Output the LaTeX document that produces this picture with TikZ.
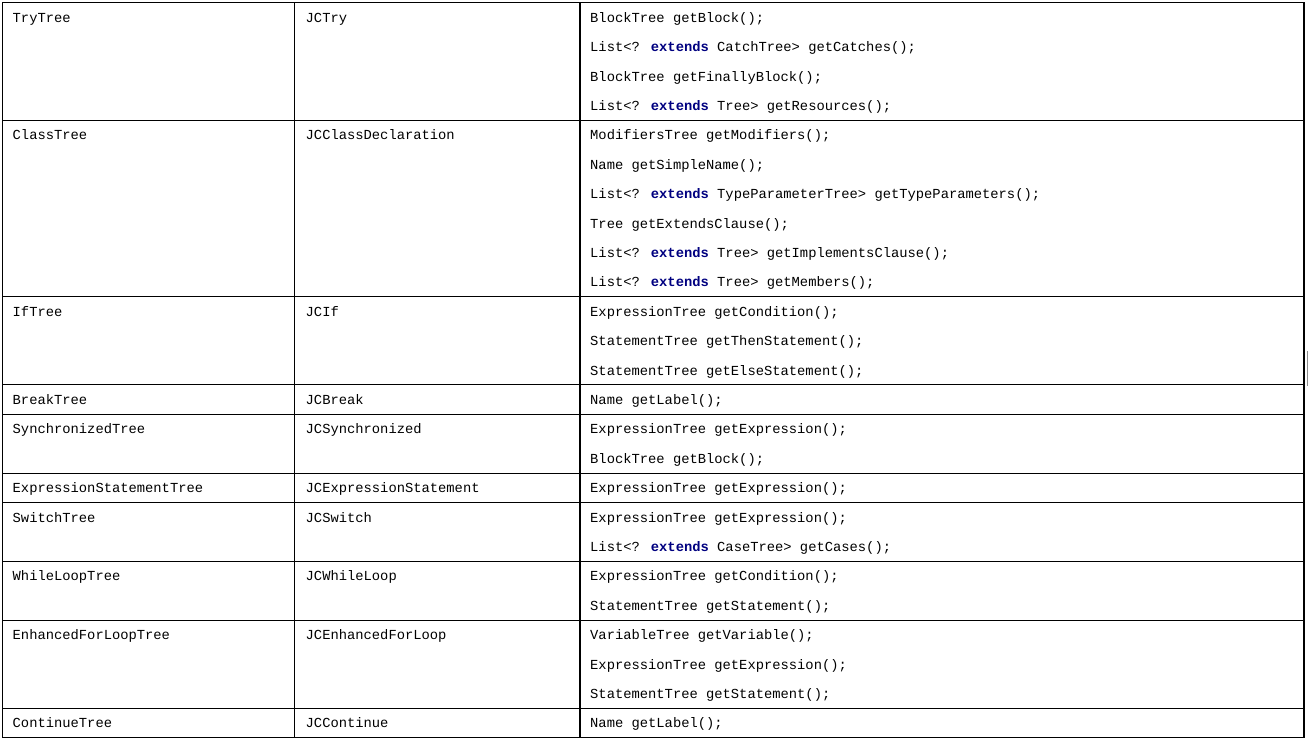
\documentclass[tikz,border=0pt]{standalone}
\usepackage{fontspec}
\setmainfont{Liberation Mono}
\usepackage{tikz}
\definecolor{kwblue}{RGB}{0,0,128}
\newcommand{\kw}[1]{\textbf{\textcolor{kwblue}{#1}}}
\tikzset{cell/.style={anchor=base west, inner sep=0pt, font=\fontsize{13.8}{14}\selectfont}}

\begin{document}
\begin{tikzpicture}[x=1pt, y=-1pt]
			%%%%% START %%%%%
			\useasboundingbox (0, 0) rectangle (1308, 746);
			
			% grid
			\draw[line width=1.1pt] (2.7, 2.7) rectangle (1304, 737.7);
			\draw[line width=1.1pt] (294.7, 2.7) -- (294.7, 737.7);
			\draw[line width=1.1pt] (580, 2.7) -- (580, 737.7);
			\foreach \k in {4,10,13,14,16,17,19,21,24}
				\draw[line width=1.1pt] (2.7, {2.7+29.4*\k}) -- (1304, {2.7+29.4*\k});
			\draw[line width=1.3pt, color=black!45] (1307.3, 351) -- (1307.3, 385.7);
			
			% tree interfaces
			\node[cell] (t1) at (12.5, 22.3) {TryTree};
			\node[cell] (t2) at (12.5, 139.9) {ClassTree};
			\node[cell] (t3) at (12.5, 316.3) {IfTree};
			\node[cell] (t4) at (12.5, 404.5) {BreakTree};
			\node[cell] (t5) at (12.5, 433.9) {SynchronizedTree};
			\node[cell] (t6) at (12.5, 492.7) {ExpressionStatementTree};
			\node[cell] (t7) at (12.5, 522.1) {SwitchTree};
			\node[cell] (t8) at (12.5, 580.9) {WhileLoopTree};
			\node[cell] (t9) at (12.5, 639.7) {EnhancedForLoopTree};
			\node[cell] (t10) at (12.5, 727.9) {ContinueTree};
			
			% implementing classes
			\node[cell] (j1) at (305.5, 22.3) {JCTry};
			\node[cell] (j2) at (305.5, 139.9) {JCClassDeclaration};
			\node[cell] (j3) at (305.5, 316.3) {JCIf};
			\node[cell] (j4) at (305.5, 404.5) {JCBreak};
			\node[cell] (j5) at (305.5, 433.9) {JCSynchronized};
			\node[cell] (j6) at (305.5, 492.7) {JCExpressionStatement};
			\node[cell] (j7) at (305.5, 522.1) {JCSwitch};
			\node[cell] (j8) at (305.5, 580.9) {JCWhileLoop};
			\node[cell] (j9) at (305.5, 639.7) {JCEnhancedForLoop};
			\node[cell] (j10) at (305.5, 727.9) {JCContinue};
			
			% methods
			\node[cell] (m0) at (590, 22.3) {BlockTree getBlock();};
			\node[cell] (m1) at (590, 51.7) {List<? \kw{extends} CatchTree> getCatches();};
			\node[cell] (m2) at (590, 81.1) {BlockTree getFinallyBlock();};
			\node[cell] (m3) at (590, 110.5) {List<? \kw{extends} Tree> getResources();};
			\node[cell] (m4) at (590, 139.9) {ModifiersTree getModifiers();};
			\node[cell] (m5) at (590, 169.3) {Name getSimpleName();};
			\node[cell] (m6) at (590, 198.7) {List<? \kw{extends} TypeParameterTree> getTypeParameters();};
			\node[cell] (m7) at (590, 228.1) {Tree getExtendsClause();};
			\node[cell] (m8) at (590, 257.5) {List<? \kw{extends} Tree> getImplementsClause();};
			\node[cell] (m9) at (590, 286.9) {List<? \kw{extends} Tree> getMembers();};
			\node[cell] (m10) at (590, 316.3) {ExpressionTree getCondition();};
			\node[cell] (m11) at (590, 345.7) {StatementTree getThenStatement();};
			\node[cell] (m12) at (590, 375.1) {StatementTree getElseStatement();};
			\node[cell] (m13) at (590, 404.5) {Name getLabel();};
			\node[cell] (m14) at (590, 433.9) {ExpressionTree getExpression();};
			\node[cell] (m15) at (590, 463.3) {BlockTree getBlock();};
			\node[cell] (m16) at (590, 492.7) {ExpressionTree getExpression();};
			\node[cell] (m17) at (590, 522.1) {ExpressionTree getExpression();};
			\node[cell] (m18) at (590, 551.5) {List<? \kw{extends} CaseTree> getCases();};
			\node[cell] (m19) at (590, 580.9) {ExpressionTree getCondition();};
			\node[cell] (m20) at (590, 610.3) {StatementTree getStatement();};
			\node[cell] (m21) at (590, 639.7) {VariableTree getVariable();};
			\node[cell] (m22) at (590, 669.1) {ExpressionTree getExpression();};
			\node[cell] (m23) at (590, 698.5) {StatementTree getStatement();};
			\node[cell] (m24) at (590, 727.9) {Name getLabel();};
			
			%%%%% END %%%%%
\end{tikzpicture}
\end{document}
